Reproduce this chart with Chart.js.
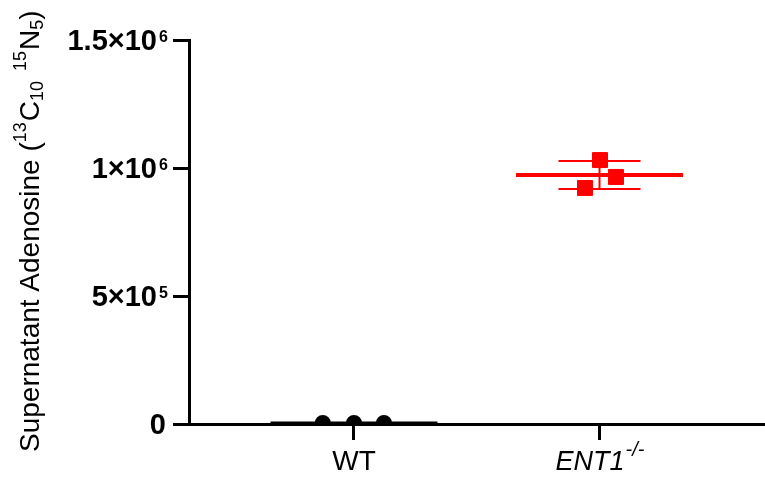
<!DOCTYPE html>
<html>
<head>
<meta charset="utf-8">
<script src="https://cdn.jsdelivr.net/npm/chart.js@4.4.1/dist/chart.umd.min.js"></script>
<style>
  body { margin: 0; background: #fff; }
  canvas { display: block; }
</style>
</head>
<body>
<canvas id="adoChart" width="765" height="478"></canvas>
<script>
// groups on the x axis
const groups = ["WT", "ENT1"];
const groupX = [0, 1];

// supernatant adenosine per replicate
const wtValues = [4000, 4000, 4000];
const ent1Values = [1031000, 965000, 922000];

// horizontal scatter of replicates inside a group (axis units)
const wtJitter = [-0.127, 0, 0.122];
const ent1Jitter = [0.002, 0.067, -0.059];

// y ticks, written as mantissa and power of ten
const yTicks = [0, 500000, 1000000, 1500000];
const yTickBase = ["0", "5×10", "1×10", "1.5×10"];
const yTickExp = ["", "5", "6", "6"];

const FONT = '"Liberation Sans", Arial, sans-serif';

function mean(arr) {
  return arr.reduce((a, b) => a + b, 0) / arr.length;
}
function sd(arr) {
  const m = mean(arr);
  return Math.sqrt(arr.reduce((a, b) => a + (b - m) * (b - m), 0) / (arr.length - 1));
}

function seg(x1, x2, y1, y2, color, width) {
  return {
    data: [{ x: x1, y: y1 }, { x: x2, y: y2 }],
    showLine: true,
    borderColor: color,
    borderWidth: width,
    pointRadius: 0,
    pointHoverRadius: 0,
  };
}

// mean line plus SD whiskers for one group
function summary(x0, values, color, meanWidth) {
  const m = mean(values);
  const s = sd(values);
  return [
    seg(x0 - 0.34, x0 + 0.34, m, m, color, meanWidth),
    seg(x0 - 0.167, x0 + 0.167, m + s, m + s, color, 2),
    seg(x0 - 0.167, x0 + 0.167, m - s, m - s, color, 2),
    seg(x0, x0, m - s, m + s, color, 2),
  ];
}

// tick labels, axis title and group names with super/subscripts
const textPlugin = {
  id: "textPlugin",
  afterDraw(chart) {
    const ctx = chart.ctx;
    const area = chart.chartArea;
    const ys = chart.scales.y;
    const xs = chart.scales.x;
    ctx.save();
    ctx.fillStyle = "#000";
    ctx.textBaseline = "alphabetic";

    yTicks.forEach((v, i) => {
      const py = ys.getPixelForValue(v);
      if (yTickExp[i]) {
        ctx.font = "bold 29px " + FONT;
        ctx.textAlign = "right";
        ctx.fillText(yTickBase[i], area.left - 32, py + 10);
        ctx.font = "bold 16px " + FONT;
        ctx.textAlign = "left";
        ctx.fillText(yTickExp[i], area.left - 30, py + 2);
      } else {
        ctx.font = "bold 29px " + FONT;
        ctx.textAlign = "right";
        ctx.fillText(yTickBase[i], area.left - 23, py + 10);
      }
    });

    // group names
    const base = area.bottom + 46;
    ctx.textAlign = "left";
    let px = xs.getPixelForValue(groupX[0]);
    ctx.font = "28px " + FONT;
    const w = ctx.measureText(groups[0]).width;
    ctx.fillText(groups[0], px - w / 2, base);

    px = xs.getPixelForValue(groupX[1]);
    ctx.font = "italic 27px " + FONT;
    const wMain = ctx.measureText(groups[1]).width;
    ctx.font = "italic 20px " + FONT;
    const wSup = ctx.measureText("-/-").width;
    const start = px - (wMain + wSup) / 2;
    ctx.font = "italic 27px " + FONT;
    ctx.fillText(groups[1], start, base);
    ctx.font = "italic 20px " + FONT;
    ctx.fillText("-/-", start + wMain + 1, base - 14);

    // rotated y title
    ctx.translate(39, 452);
    ctx.rotate(-Math.PI / 2);
    const parts = [
      ["Supernatant Adenosine (", 28, 0],
      ["13", 18, -13],
      ["C", 28, 0],
      ["10", 18, 4],
      ["  ", 18, 0],
      ["15", 18, -13],
      ["N", 28, 0],
      ["5", 18, 4],
      [")", 28, 0],
    ];
    let tx = 0;
    parts.forEach(([t, size, dy]) => {
      ctx.font = size + "px " + FONT;
      ctx.fillText(t, tx, dy);
      tx += ctx.measureText(t).width + (t === "13" || t === "15" ? 1 : 0);
    });
    ctx.restore();
  },
};

const datasets = [
  {
    data: wtValues.map((v, i) => ({ x: groupX[0] + wtJitter[i], y: v })),
    pointStyle: "circle",
    pointRadius: 7,
    borderWidth: 2,
    backgroundColor: "#000",
    borderColor: "#000",
    clip: 0,
  },
  {
    data: ent1Values.map((v, i) => ({ x: groupX[1] + ent1Jitter[i], y: v })),
    pointStyle: "rect",
    pointRadius: 10.6,
    borderWidth: 1,
    backgroundColor: "#ff0000",
    borderColor: "#ff0000",
  },
  ...summary(groupX[0], wtValues, "#000", 3),
  ...summary(groupX[1], ent1Values, "#ff0000", 4),
];

new Chart(document.getElementById("adoChart"), {
  type: "scatter",
  data: { datasets: datasets },
  options: {
    responsive: false,
    animation: false,
    events: [],
    layout: { autoPadding: false, padding: { top: 40, right: 0, left: 0, bottom: 0 } },
    plugins: { legend: { display: false }, tooltip: { enabled: false } },
    scales: {
      x: {
        type: "linear",
        min: -0.672,
        max: 1.674,
        afterBuildTicks: (s) => {
          s.ticks = groupX.map((v) => ({ value: v }));
        },
        afterFit: (s) => {
          s.height = 54;
        },
        ticks: { display: false },
        grid: {
          drawOnChartArea: false,
          drawTicks: true,
          tickLength: 16,
          tickWidth: 3,
          tickColor: "#000",
        },
        border: { display: true, color: "#000", width: 3 },
      },
      y: {
        min: 0,
        max: 1500000,
        afterBuildTicks: (s) => {
          s.ticks = yTicks.map((v) => ({ value: v }));
        },
        afterFit: (s) => {
          s.width = 189;
        },
        ticks: { display: false },
        grid: {
          drawOnChartArea: false,
          drawTicks: true,
          tickLength: 16,
          tickWidth: 3,
          tickColor: "#000",
        },
        border: { display: true, color: "#000", width: 3 },
      },
    },
  },
  plugins: [textPlugin],
});
</script>
</body>
</html>
